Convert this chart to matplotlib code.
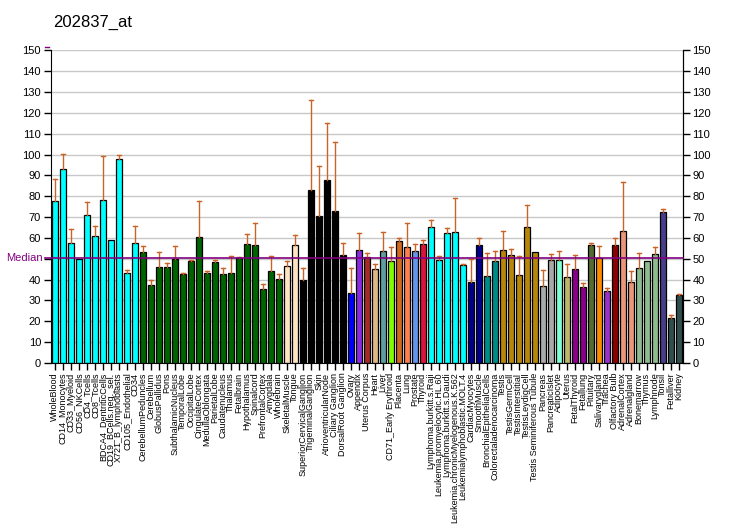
import matplotlib
matplotlib.use("Agg")
import matplotlib.pyplot as plt
from matplotlib.lines import Line2D
import numpy as np

plt.rcParams["font.family"] = ["Liberation Sans", "DejaVu Sans"]

title = "202837_at"

labels = [
    "WholeBlood", "CD14_Monocytes", "CD33_Myeloid", "CD56_NKCells", "CD4_Tcells",
    "CD8_Tcells", "BDCA4_DentriticCells", "CD19_BCells.neg._sel.", "X721_B_lymphoblasts",
    "CD105_Endothelial", "CD34", "CerebellumPeduncles", "Cerebellum", "GlobusPallidus",
    "Pons", "SubthalamicNucleus", "TemporalLobe", "OccipitalLobe", "CingulateCortex",
    "MedullaOblongata", "ParietalLobe", "Caudatenucleus", "Thalamus", "Fetalbrain",
    "Hypothalamus", "Spinalcord", "PrefrontalCortex", "Amygdala", "Wholebrain",
    "SkeletalMuscle", "Tongue", "SuperiorCervicalGanglion", "TrigeminalGanglion", "Skin",
    "AtrioventricularNode", "Ciliary Ganglion", "DorsalRoot Ganglion", "Ovary", "Appendix",
    "Uterus Corpus", "Heart", "Liver", "CD71_Early Erythroid", "Placenta", "Lung",
    "Prostate", "Thyroid", "Lymphoma.burkitt.s.Raji", "Leukemia.promyelocytic.HL.60",
    "Lymphoma.burkitt.s.Daudi", "Leukemia.chronicMyelogenous.K.562",
    "Leukemialymphoblastic.MOLT.4", "CardiacMyocytes", "SmoothMuscle",
    "BronchialEpithelialCells", "Colorectaladenocarcinoma", "Testis", "TestisGermCell",
    "TestisInterstitial", "TestisLeydigCell", "Testis Seminiferous Tubule", "Pancreas",
    "PancreaticIslet", "Adipocyte", "Uterus", "FetalThyroid", "Fetallung", "Pituitary",
    "Salivarygland", "Trachea", "Olfactory Bulb", "AdrenalCortex", "Adrenalgland",
    "Bonemarrow", "Thymus", "Lymphnode", "Tonsil", "Fetalliver", "Kidney",
]

values = [
    77.6, 92.9, 57.4, 49.7, 70.8, 60.8, 78.0, 58.8, 97.7, 43.0, 57.4,
    53.1, 37.3, 45.9, 45.9, 49.7, 42.5, 48.8, 60.3, 43.0, 48.3, 42.5, 43.0, 50.2,
    56.9, 56.4, 35.5, 44.0, 40.1,
    46.4, 56.4,
    39.7, 82.8, 70.4, 87.6, 72.8, 51.6,
    33.4, 54.0, 50.7, 44.9, 53.6, 48.8, 58.4, 55.5, 53.6, 56.9,
    65.1, 49.2, 62.2, 62.7, 46.9,
    38.7, 56.4, 41.6, 48.8,
    54.0, 51.6, 42.1, 65.1, 53.1,
    36.8, 49.2, 49.2, 41.1, 44.9, 36.3, 56.4, 50.2, 34.4, 56.4, 63.2, 38.7,
    45.4, 48.8, 52.1, 72.3, 21.4, 32.5,
]

err_top = [
    88.1, 100.1, 64.1, None, 77.1, 65.6, 99.1, None, 99.6, 44.6, 65.6,
    56.0, 39.8, 53.2, 47.8, 56.0, 43.0, 49.2, 77.6, 44.0, 49.2, 45.4, 51.2, 50.7,
    61.7, 67.0, 37.7, 51.2, 42.5,
    48.8, 61.2,
    45.7, 126.0, 94.3, 115.0, 105.9, 57.4,
    45.7, 62.2, 52.6, 47.3, 62.7, 55.5, 59.8, 67.0, 56.9, 58.8,
    68.4, 51.2, 64.6, 79.0, 47.3,
    50.0, 59.8, 52.6, 53.6,
    63.2, 54.8, 51.2, 75.6, None,
    44.5, 52.1, 53.6, 47.3, 51.6, 38.2, 57.4, 56.0, 35.8, 59.8, 86.7, 44.0,
    52.6, None, 55.5, 74.0, 22.9, 32.9,
]

group_colors = (
    ["#00FFFF"] * 11 + ["#006400"] * 18 + ["#FFE4C4"] * 2 + ["#000000"] * 6
    + ["#0000FF", "#8A2BE2", "#A52A2A", "#DEB887", "#5F9EA0", "#7FFF00",
       "#D2691E", "#FF7F50", "#6495ED", "#DC143C"]
    + ["#00FFFF"] * 5 + ["#00008B"] * 2 + ["#008B8B"] * 2 + ["#B8860B"] * 5
    + ["#A9A9A9", "#A9A9A9", "#7FFFD4", "#BDB76B", "#8B008B", "#8B008B",
       "#556B2F", "#FF8C00", "#9932CC", "#8B0000", "#E9967A", "#E9967A",
       "#8FBC8F", "#8FBC8F", "#8FBC8F", "#483D8B", "#2F4F4F", "#2F4F4F"]
)

median = 50.2

fig = plt.figure(figsize=(7.32, 5.30), dpi=100)
ax = fig.add_axes([0.0693, 0.3151, 0.8634, 0.5900])

x = np.arange(len(labels))
ax.set_axisbelow(True)
ax.yaxis.grid(True, color="#C8C8C8", linewidth=1)

ax.bar(x, values, width=0.75, color=group_colors, edgecolor="black", linewidth=0.9, zorder=2)

# upper-only error bars with caps
for xi, v, e in zip(x, values, err_top):
    if e is None:
        continue
    ax.plot([xi, xi], [v, e], color="#C86428", linewidth=1, zorder=3)
    ax.plot([xi - 0.25, xi + 0.25], [e, e], color="#C86428", linewidth=1, zorder=3)

ax.axhline(median, color="#800080", linewidth=1.2, zorder=4, clip_on=False,
           xmin=-0.009, xmax=1)
ax.text(-0.012, median, "Median", transform=ax.get_yaxis_transform(),
        ha="right", va="center", color="#800080", fontsize=8)

ax.set_xlim(-0.5, len(labels) - 0.5)
ax.set_ylim(0, 150)
yt = np.arange(0, 151, 10)
ax.set_yticks(yt)
ax.set_yticklabels([str(t) if t != 50 else "" for t in yt], fontsize=8)
ax.tick_params(axis="y", length=5, width=1, pad=2)
ax2 = ax.secondary_yaxis("right")
ax2.set_yticks(yt)
ax2.set_yticklabels([str(t) for t in yt], fontsize=8)
ax2.tick_params(length=5, width=1, pad=2)

ax.set_xticks(x)
ax.set_xticklabels(labels, rotation=90, fontsize=6.5)
ax.tick_params(axis="x", length=5, width=1, pad=2)

ax.spines["top"].set_visible(False)

# small purple mark above the left axis
fig.add_artist(Line2D([45 / 732, 49 / 732], [1 - 47 / 530, 1 - 47 / 530],
                      color="#800080", linewidth=1))

fig.text(0.0725, 0.958, title, fontsize=12, ha="left", va="center")

fig.savefig("out.png", dpi=100)
